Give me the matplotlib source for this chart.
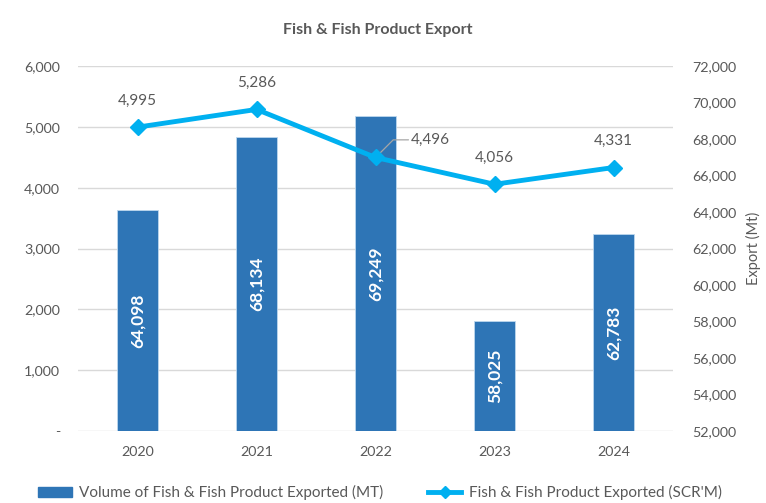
import matplotlib
matplotlib.use("Agg")
import matplotlib.pyplot as plt
from matplotlib.ticker import FuncFormatter
from matplotlib.lines import Line2D
from matplotlib.patches import Patch

plt.rcParams['font.family'] = ['Lato', 'DejaVu Sans']

years = ["2020", "2021", "2022", "2023", "2024"]
volume_mt = [64098, 68134, 69249, 58025, 62783]
value_scr = [4995, 5286, 4496, 4056, 4331]
left_ticks = [0, 1000, 2000, 3000, 4000, 5000, 6000]
right_ticks = [52000, 54000, 56000, 58000, 60000, 62000, 64000, 66000, 68000, 70000, 72000]

txt = "#595959"
bar_color = "#2E75B6"
line_color = "#00B0F0"

fig = plt.figure(figsize=(7.66, 5.03), dpi=100)
ax = fig.add_axes([0.102, 0.1431, 0.7766, 0.7257])
ax2 = ax.twinx()

x = list(range(len(years)))

# bars on right axis
ax2.bar(x, [v - right_ticks[0] for v in volume_mt], bottom=right_ticks[0], width=0.34,
        color=bar_color, edgecolor="#BDD7EE", linewidth=0.6, zorder=2)
ax2.set_ylim(right_ticks[0], right_ticks[-1])
ax2.set_yticks(right_ticks)
ax2.yaxis.set_major_formatter(FuncFormatter(lambda v, p: f"{int(v):,}"))
for xi, v in zip(x, volume_mt):
    ax2.text(xi, (v + right_ticks[0]) / 2, f"{v:,}", rotation=90, ha="center", va="center",
             color="white", fontsize=12.5, fontweight="bold", zorder=3)

# line on left axis (draw on top)
ax.set_zorder(ax2.get_zorder() + 1)
ax.patch.set_visible(False)
ax.plot(x, value_scr, color=line_color, linewidth=3.5, marker="D", markersize=8,
        zorder=4, solid_capstyle="round")
ax.set_ylim(left_ticks[0], left_ticks[-1])
ax.set_yticks(left_ticks)
ax.yaxis.set_major_formatter(FuncFormatter(lambda v, p: "-" if v == 0 else f"{int(v):,}"))
ax.set_xlim(-0.5, len(years) - 0.5)
ax.set_xticks(x)
ax.set_xticklabels(years)

for i, (xi, v) in enumerate(zip(x, value_scr)):
    if i == 2:
        ax.annotate(f"{v:,}", xy=(xi, v), xytext=(xi + 0.3, v + 290), ha="left", va="center",
                    color=txt, fontsize=11,
                    arrowprops=dict(arrowstyle="-", color="#A6A6A6", lw=0.9,
                                    shrinkA=0, shrinkB=2,
                                    connectionstyle="angle,angleA=0,angleB=45,rad=0"))
    else:
        ax.annotate(f"{v:,}", xy=(xi, v), xytext=(0, 14), textcoords="offset points",
                    ha="center", va="bottom", color=txt, fontsize=11)

# grid on background axis
ax2.set_axisbelow(True)
for t in left_ticks:
    ax2.axhline(right_ticks[0] + (t - left_ticks[0]) / (left_ticks[-1] - left_ticks[0]) *
                (right_ticks[-1] - right_ticks[0]), color="#D9D9D9", lw=1, zorder=0)

for a in (ax, ax2):
    for s in a.spines.values():
        s.set_visible(False)
    a.tick_params(length=0, colors=txt, labelsize=10.3)
ax.tick_params(axis="y", pad=13)
ax.tick_params(axis="x", pad=11)
ax2.tick_params(axis="y", pad=14)
ax2.set_ylabel("Export (Mt)", color=txt, fontsize=10.5)
ax2.yaxis.label.set_va("center")
ax2.yaxis.set_label_coords(1.136, 0.5)

fig.suptitle("Fish & Fish Product Export", x=0.493, y=0.955, fontsize=11.5,
             fontweight="bold", color=txt)

handles = [Patch(facecolor=bar_color, edgecolor=bar_color),
           Line2D([0], [0], color=line_color, lw=3.5, marker="D", markersize=6)]
labels = ["Volume of Fish & Fish Product Exported (MT)", "Fish & Fish Product Exported (SCR'M)"]
fig.legend(handles, labels, loc="lower center", bbox_to_anchor=(0.496, -0.022), ncol=2,
           frameon=False, fontsize=11, labelcolor=txt, handlelength=2.2,
           handletextpad=0.5, columnspacing=2.9)

fig.savefig("out.png", dpi=100)
